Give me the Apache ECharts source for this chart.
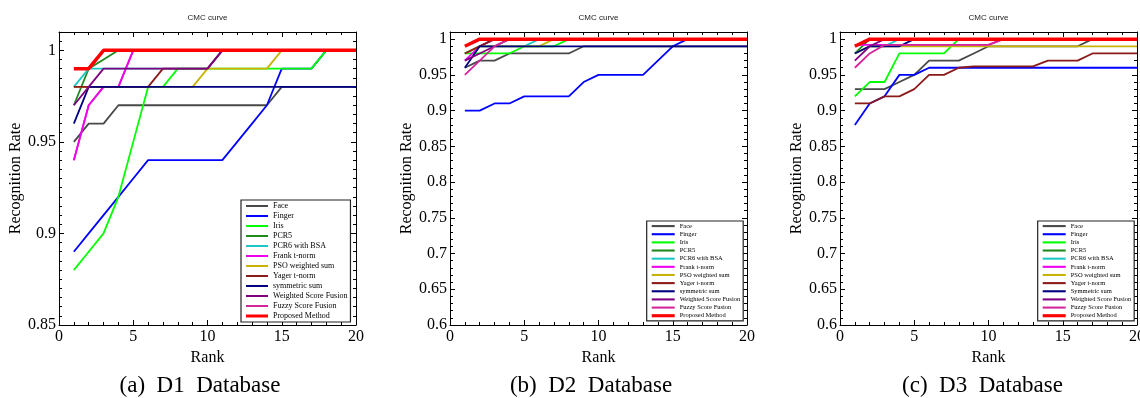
<!DOCTYPE html>
<html><head><meta charset="utf-8">
<script src="https://cdn.jsdelivr.net/npm/echarts@6/dist/echarts.min.js"></script>
<style>html,body{margin:0;padding:0;background:#fff}#c{width:1140px;height:398px}</style>
</head><body><div id="c"></div>
<script>
// ---------- data ----------
const ranks = [1,2,3,4,5,6,7,8,9,10,11,12,13,14,15,16,17,18,19,20];
const xTicks = [0,5,10,15,20];
const namesD12 = ['Face','Finger','Iris','PCR5','PCR6 with BSA','Frank t-norm','PSO weighted sum','Yager t-norm','symmetric sum','Weighted Score Fusion','Fuzzy Score Fusion','Proposed Method'];
const namesD3  = ['Face','Finger','Iris','PCR5','PCR6 with BSA','Frank t-norm','PSO weighted sum','Yager t-norm','Symmetric sum','Weighted Score Fusion','Fuzzy Score Fusion','Proposed Method'];
const captions = ['(a)  D1  Database','(b)  D2  Database','(c)  D3  Database'];
const chartTitle = 'CMC curve';
const xName = 'Rank';
const yName = 'Recognition Rate';

// D1
const d1Face     = [0.95,0.96,0.96,0.97,0.97,0.97,0.97,0.97,0.97,0.97,0.97,0.97,0.97,0.97,0.98,0.98,0.98,0.98,0.98,0.98];
const d1Finger   = [0.89,0.90,0.91,0.92,0.93,0.94,0.94,0.94,0.94,0.94,0.94,0.95,0.96,0.97,0.99,0.99,0.99,1.00,1.00,1.00];
const d1Iris     = [0.88,0.89,0.90,0.92,0.95,0.98,0.98,0.99,0.99,0.99,0.99,0.99,0.99,0.99,0.99,0.99,0.99,1.00,1.00,1.00];
const d1Pcr5     = [0.97,0.99,0.995,1.00,1.00,1.00,1.00,1.00,1.00,1.00,1.00,1.00,1.00,1.00,1.00,1.00,1.00,1.00,1.00,1.00];
const d1Pcr6     = [0.98,0.99,0.99,0.99,0.99,0.99,0.99,0.99,0.99,0.99,1.00,1.00,1.00,1.00,1.00,1.00,1.00,1.00,1.00,1.00];
const d1Frank    = [0.94,0.97,0.98,0.98,1.00,1.00,1.00,1.00,1.00,1.00,1.00,1.00,1.00,1.00,1.00,1.00,1.00,1.00,1.00,1.00];
const d1Pso      = [0.98,0.98,0.98,0.98,0.98,0.98,0.98,0.98,0.98,0.99,0.99,0.99,0.99,0.99,1.00,1.00,1.00,1.00,1.00,1.00];
const d1Yager    = [0.98,0.98,0.98,0.98,0.98,0.98,0.99,0.99,0.99,0.99,1.00,1.00,1.00,1.00,1.00,1.00,1.00,1.00,1.00,1.00];
const d1Sym      = [0.96,0.98,0.98,0.98,0.98,0.98,0.98,0.98,0.98,0.98,0.98,0.98,0.98,0.98,0.98,0.98,0.98,0.98,0.98,0.98];
const d1Weighted = [0.97,0.98,0.99,0.99,0.99,0.99,0.99,0.99,0.99,0.99,1.00,1.00,1.00,1.00,1.00,1.00,1.00,1.00,1.00,1.00];
const d1Fuzzy    = [0.94,0.97,0.98,0.98,1.00,1.00,1.00,1.00,1.00,1.00,1.00,1.00,1.00,1.00,1.00,1.00,1.00,1.00,1.00,1.00];
const d1Proposed = [0.99,0.99,1.00,1.00,1.00,1.00,1.00,1.00,1.00,1.00,1.00,1.00,1.00,1.00,1.00,1.00,1.00,1.00,1.00,1.00];

// D2
const d2Face     = [0.96,0.97,0.97,0.98,0.98,0.98,0.98,0.98,0.99,0.99,0.99,0.99,0.99,0.99,0.99,0.99,0.99,0.99,0.99,0.99];
const d2Finger   = [0.90,0.90,0.91,0.91,0.92,0.92,0.92,0.92,0.94,0.95,0.95,0.95,0.95,0.97,0.99,1.00,1.00,1.00,1.00,1.00];
const d2Iris     = [0.98,0.98,0.98,0.98,0.99,0.99,0.99,1.00,1.00,1.00,1.00,1.00,1.00,1.00,1.00,1.00,1.00,1.00,1.00,1.00];
const d2Pcr5     = [0.98,0.99,1.00,1.00,1.00,1.00,1.00,1.00,1.00,1.00,1.00,1.00,1.00,1.00,1.00,1.00,1.00,1.00,1.00,1.00];
const d2Pcr6     = [0.98,0.99,0.99,0.99,0.99,1.00,1.00,1.00,1.00,1.00,1.00,1.00,1.00,1.00,1.00,1.00,1.00,1.00,1.00,1.00];
const d2Frank    = [0.97,0.99,1.00,1.00,1.00,1.00,1.00,1.00,1.00,1.00,1.00,1.00,1.00,1.00,1.00,1.00,1.00,1.00,1.00,1.00];
const d2Pso      = [0.98,0.99,0.99,0.99,0.99,0.99,1.00,1.00,1.00,1.00,1.00,1.00,1.00,1.00,1.00,1.00,1.00,1.00,1.00,1.00];
const d2Yager    = [0.98,0.99,1.00,1.00,1.00,1.00,1.00,1.00,1.00,1.00,1.00,1.00,1.00,1.00,1.00,1.00,1.00,1.00,1.00,1.00];
const d2Sym      = [0.96,0.99,0.99,0.99,0.99,0.99,0.99,0.99,0.99,0.99,0.99,0.99,0.99,0.99,0.99,0.99,0.99,0.99,0.99,0.99];
const d2Weighted = [0.97,0.98,0.99,1.00,1.00,1.00,1.00,1.00,1.00,1.00,1.00,1.00,1.00,1.00,1.00,1.00,1.00,1.00,1.00,1.00];
const d2Fuzzy    = [0.95,0.97,0.99,1.00,1.00,1.00,1.00,1.00,1.00,1.00,1.00,1.00,1.00,1.00,1.00,1.00,1.00,1.00,1.00,1.00];
const d2Proposed = [0.99,1.00,1.00,1.00,1.00,1.00,1.00,1.00,1.00,1.00,1.00,1.00,1.00,1.00,1.00,1.00,1.00,1.00,1.00,1.00];

// D3
const d3Face     = [0.93,0.93,0.93,0.94,0.95,0.97,0.97,0.97,0.98,0.99,0.99,0.99,0.99,0.99,0.99,0.99,1.00,1.00,1.00,1.00];
const d3Finger   = [0.88,0.91,0.92,0.95,0.95,0.96,0.96,0.96,0.96,0.96,0.96,0.96,0.96,0.96,0.96,0.96,0.96,0.96,0.96,0.96];
const d3Iris     = [0.92,0.94,0.94,0.98,0.98,0.98,0.98,1.00,1.00,1.00,1.00,1.00,1.00,1.00,1.00,1.00,1.00,1.00,1.00,1.00];
const d3Pcr5     = [0.98,1.00,1.00,1.00,1.00,1.00,1.00,1.00,1.00,1.00,1.00,1.00,1.00,1.00,1.00,1.00,1.00,1.00,1.00,1.00];
const d3Pcr6     = [0.98,0.99,0.99,1.00,1.00,1.00,1.00,1.00,1.00,1.00,1.00,1.00,1.00,1.00,1.00,1.00,1.00,1.00,1.00,1.00];
const d3Frank    = [0.992,0.992,0.992,0.992,0.992,0.992,0.992,0.992,0.992,0.992,1.00,1.00,1.00,1.00,1.00,1.00,1.00,1.00,1.00,1.00];
const d3Pso      = [0.98,0.99,0.99,0.99,0.99,0.99,0.99,0.99,0.99,0.99,0.99,0.99,0.99,0.99,0.99,0.99,0.99,0.99,0.99,0.99];
const d3Yager    = [0.91,0.91,0.92,0.92,0.93,0.95,0.95,0.96,0.962,0.962,0.962,0.962,0.962,0.97,0.97,0.97,0.98,0.98,0.98,0.98];
const d3Sym      = [0.98,0.99,0.99,0.99,1.00,1.00,1.00,1.00,1.00,1.00,1.00,1.00,1.00,1.00,1.00,1.00,1.00,1.00,1.00,1.00];
const d3Weighted = [0.97,0.99,1.00,1.00,1.00,1.00,1.00,1.00,1.00,1.00,1.00,1.00,1.00,1.00,1.00,1.00,1.00,1.00,1.00,1.00];
const d3Fuzzy    = [0.96,0.98,0.992,0.992,0.992,0.992,0.992,0.992,0.992,0.992,1.00,1.00,1.00,1.00,1.00,1.00,1.00,1.00,1.00,1.00];
const d3Proposed = [0.99,1.00,1.00,1.00,1.00,1.00,1.00,1.00,1.00,1.00,1.00,1.00,1.00,1.00,1.00,1.00,1.00,1.00,1.00,1.00];

const dbValues = [
  [d1Face,d1Finger,d1Iris,d1Pcr5,d1Pcr6,d1Frank,d1Pso,d1Yager,d1Sym,d1Weighted,d1Fuzzy,d1Proposed],
  [d2Face,d2Finger,d2Iris,d2Pcr5,d2Pcr6,d2Frank,d2Pso,d2Yager,d2Sym,d2Weighted,d2Fuzzy,d2Proposed],
  [d3Face,d3Finger,d3Iris,d3Pcr5,d3Pcr6,d3Frank,d3Pso,d3Yager,d3Sym,d3Weighted,d3Fuzzy,d3Proposed]
];
const dbNames = [namesD12, namesD12, namesD3];
const yMins = [0.85, 0.6, 0.6];
const yMax = 1.01;

// ---------- styles / layout ----------
const colors = ['#484848','#0000ff','#00ff00','#1f8b1f','#1fc6c6','#ee00ee','#c8b400','#8b1a1a','#000080','#800080','#d4269b','#ff0000'];
const widths = [1.8,1.8,1.8,1.8,1.8,1.8,1.8,1.8,1.8,1.8,1.8,3.5];
const minorSteps = [0.005, 0.01, 0.01];
const drawOrders = [[0,1,2,3,4,10,5,6,7,8,9,11],[0,1,2,3,4,5,6,7,8,9,10,11],[0,1,2,3,4,5,6,7,8,9,10,11]];
const SERIF = 'Liberation Serif';
const SANS = 'Liberation Sans';
const gridTop = 32, gridW = 297, gridH = 293;
const gridLefts = [59, 450, 840];
const capX = [200, 591, 982.5];
const legendPos = [
  {left:241, top:200, iw:22, lh:10, fs:8},
  {left:646.7, top:221, iw:23, lh:8.15, fs:6.5},
  {left:1037.7, top:221, iw:23, lh:8.15, fs:6.5}
];
const thinIcon = 'path://M0,0h11v1h-11z';
const thickIcon = 'path://M0,0h22v3h-22z';

function yFmt(v){
  const k = Math.round(v*20);
  if (Math.abs(v*20 - k) > 1e-6) return '';
  return String(+(k/20).toFixed(2));
}

function makeX(g, pos){
  const ax = {gridIndex:g, type:'value', min:xTicks[0], max:xTicks[xTicks.length-1], interval:5, position:pos,
    axisLine:{show:true, onZero:false, lineStyle:{color:'#000', width:1}},
    axisTick:{show:true, inside:true, length:5, lineStyle:{color:'#000', width:1}},
    minorTick:{show:true, splitNumber:5, length:3, lineStyle:{color:'#000', width:1}},
    splitLine:{show:false}};
  if (pos === 'bottom') {
    ax.axisLabel = {show:true, margin:4, color:'#000', fontFamily:SERIF, fontSize:16};
    ax.name = xName; ax.nameLocation = 'middle'; ax.nameGap = 17;
    ax.nameTextStyle = {color:'#000', fontFamily:SERIF, fontSize:16};
  } else {
    ax.axisLabel = {show:false};
  }
  return ax;
}
function makeY(g, pos, major){
  const ax = {gridIndex:g, type:'value', min:yMins[g], max:yMax, interval: major ? 0.05 : minorSteps[g], position:pos,
    axisLine:{show:major, onZero:false, lineStyle:{color:'#000', width:1}},
    axisTick:{show:true, inside:true, length: major ? 5 : 3, lineStyle:{color:'#000', width:1}},
    splitLine:{show:false}};
  if (major && pos === 'left') {
    ax.axisLabel = {show:true, margin:3, color:'#000', fontFamily:SERIF, fontSize:16, formatter:yFmt};
    ax.name = yName; ax.nameLocation = 'middle'; ax.nameGap = 34;
    ax.nameTextStyle = {color:'#000', fontFamily:SERIF, fontSize:16};
  } else {
    ax.axisLabel = {show:false};
  }
  return ax;
}

const grid = [], xAxis = [], yAxis = [], series = [], legend = [], graphic = [];

for (let g = 0; g < 3; g++) {
  grid.push({left: gridLefts[g], top: gridTop, width: gridW, height: gridH, outerBoundsMode:'none'});
  xAxis.push(makeX(g, 'bottom'));
  xAxis.push(makeX(g, 'top'));
  yAxis.push(makeY(g, 'left', true));
  yAxis.push(makeY(g, 'left', false));
  yAxis.push(makeY(g, 'right', true));
  yAxis.push(makeY(g, 'right', false));

  for (const i of drawOrders[g]) {
    const vals = dbValues[g][i];
    series.push({type:'line', name: dbNames[g][i], xAxisIndex: 2*g, yAxisIndex: 4*g,
      data: ranks.map((r, k) => [r, vals[k]]),
      symbol:'none', showSymbol:false, silent:true,
      color: colors[i], itemStyle:{color: colors[i]},
      lineStyle:{color: colors[i], width: widths[i]}});
  }

  const L = legendPos[g];
  legend.push({orient:'vertical', left:L.left, top:L.top, itemWidth:L.iw, itemHeight:L.lh, itemGap:0,
    padding:[1,3,1,5], borderColor:'#222', borderWidth:1.2, backgroundColor:'#fff',
    icon: thinIcon, symbolKeepAspect:true, selectedMode:false,
    textStyle:{fontFamily:SERIF, fontSize:L.fs, color:'#000', lineHeight:L.lh},
    data: dbNames[g].map((n, i) => ({name:n, icon: i === 11 ? thickIcon : thinIcon}))});

  graphic.push({type:'text', x: gridLefts[g] + gridW/2, y: 17.3, silent:true,
    style:{text: chartTitle, fill:'#222', fontFamily:SANS, fontSize:8, align:'center', verticalAlign:'middle'}});
  graphic.push({type:'text', x: capX[g], y: 386, silent:true,
    style:{text: captions[g], fill:'#000', fontFamily:SERIF, fontSize:23, align:'center', verticalAlign:'middle'}});
}

const chart = echarts.init(document.getElementById('c'));
chart.setOption({animation:false, grid, xAxis, yAxis, series, legend, graphic});
</script>
</body></html>
